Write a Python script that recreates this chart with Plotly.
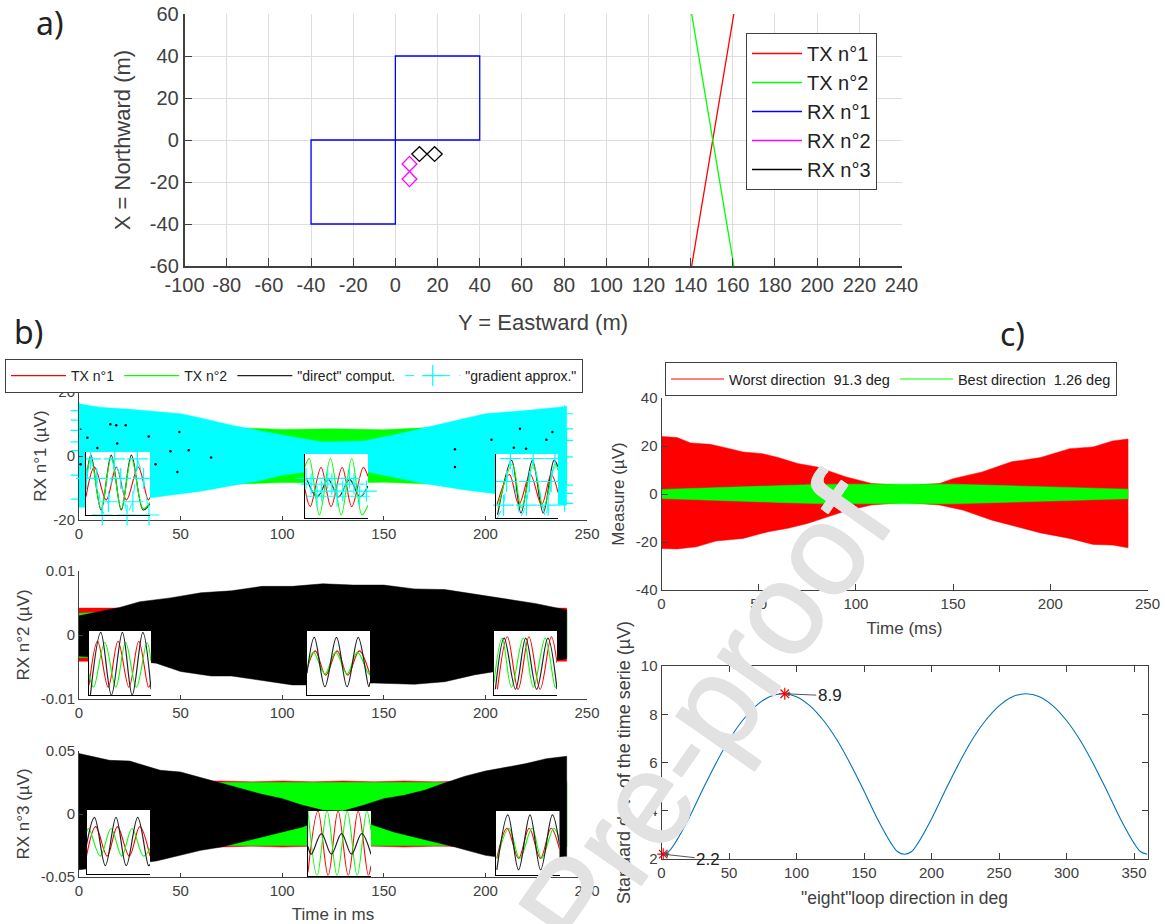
import plotly.graph_objects as go

W, H = 1165, 924
RED, GREEN, BLUE, MAGENTA, CYAN = "#ff0000", "#00ff00", "#0000ff", "#ff00ff", "#00ffff"
INK = "#404040"
FONT = "Liberation Sans"

# ---- tick labels
A_X_TICKS = [-100, -80, -60, -40, -20, 0, 20, 40, 60, 80, 100, 120, 140, 160, 180, 200, 220, 240]
A_Y_TICKS = [-60, -40, -20, 0, 20, 40, 60]
B_X_TICKS = [0, 50, 100, 150, 200, 250]
B1_Y_TICKS = [-20, 0, 20]
B2_Y_TICKS = [-0.01, 0, 0.01]
B3_Y_TICKS = [-0.05, 0, 0.05]
C1_Y_TICKS = [-40, -20, 0, 20, 40]

# ---- panel a) geometry
TX1_X = [140.5, 160.5]
TX1_Y = [-60, 60]
TX2_X = [140.5, 160.5]
TX2_Y = [60, -60]
RX1_X = [0, 40, 40, 0, 0, -40, -40, 0, 0]
RX1_Y = [0, 0, 40, 40, 0, 0, -40, -40, 0]
RX2_X = [6.7, 10.2, 6.7, 3.2, 6.7, 10.2, 6.7, 3.2, 6.7]
RX2_Y = [-15, -11.4, -7.8, -11.4, -15, -18.6, -22.2, -18.6, -15]
RX3_X = [15, 11.4, 7.8, 11.4, 15, 18.6, 22.2, 18.6, 15]
RX3_Y = [-6.7, -3.2, -6.7, -10.2, -6.7, -3.2, -6.7, -10.2, -6.7]
A_LABELS = ["TX n°1", "TX n°2", "RX n°1", "RX n°2", "RX n°3"]

# ---- panel b) envelopes
B1_G_T = [0, 40, 75, 100, 125, 150, 170, 200, 240]
B1_G_U = [9.0, 9.0, 8.9, 8.3, 8.5, 8.2, 8.8, 8.8, 8.8]
B1_G_L = [-8.8, -8.8, -8.8, -8.3, -8.4, -8.2, -8.7, -8.7, -8.8]
B1_C_UT = [0, 10, 25, 50, 62, 75, 88, 100, 110, 120, 140, 155, 170, 185, 200, 220, 240]
B1_C_U = [16.3, 15.2, 14.6, 13.2, 11.6, 9.6, 8.0, 6.5, 5.4, 4.4, 4.7, 6.6, 8.9, 11.0, 13.2, 14.2, 15.5]
B1_C_LT = [0, 3, 38, 60, 75, 88, 100, 115, 142, 155, 170, 190, 205, 235.5, 236, 240]
B1_C_L = [-16, -16, -12.8, -11, -9.2, -7.8, -6, -4.7, -5, -6.6, -8.6, -10.6, -11.8, -13.5, -15.4, -15.4]
B1_SPECK_X = [0.8, 18.3, 15.4, 23, 18.8, 0.8, 37.7, 54, 49.4, 48.4, 34.3, 4.1, 230, 214, 203, 217, 233, 185, 185, 205.7, 220, 9, 45, 65]
B1_SPECK_Y = [8.2, 9.6, 9.9, 9.6, 3.9, -2.6, -2.6, 1.8, 7.5, -5, 6.1, 5.7, 5.1, 2.6, 5.1, 8.5, 7.5, 2.1, -3.4, -3.4, 2.3, 2.5, 1.5, -0.5]
B1_EDGE_X = [0, 0, 0, 0, 0, 0, 0, 239, 239, 239, 239, 239, 239, 239]
B1_EDGE_Y = [14.2, 11.2, 8.0, 4.4, 1.7, -6, -13.5, 13.2, 8.5, 4.9, -0.3, -9.1, -11.7, -14.8]

B2_T = [0, 20, 40, 60, 80, 100, 120, 140, 160, 180, 200, 220, 240]
B2_R_U = [0.0042, 0.0042, 0.0041, 0.0041, 0.0041, 0.0041, 0.0041, 0.0041, 0.0041, 0.0041, 0.0041, 0.0041, 0.0042]
B2_R_L = [-0.0041, -0.0041, -0.0041, -0.0041, -0.0041, -0.0041, -0.0041, -0.0041, -0.0041, -0.0041, -0.0041, -0.0041, -0.0041]
B2_G_U = [0.0034, 0.0037, 0.0038, 0.0038, 0.0038, 0.0038, 0.0038, 0.0038, 0.0038, 0.0038, 0.0038, 0.0037, 0.0036]
B2_G_L = [-0.0035, -0.0037, -0.0038, -0.0038, -0.0038, -0.0038, -0.0038, -0.0038, -0.0038, -0.0038, -0.0038, -0.0037, -0.0035]
B2_K_UT = [0, 20, 30, 45, 60, 75, 90, 105, 120, 135, 150, 165, 180, 195, 210, 225, 240]
B2_K_U = [0.0030, 0.0043, 0.0052, 0.0058, 0.0066, 0.0069, 0.0076, 0.0076, 0.0080, 0.0078, 0.0078, 0.0072, 0.0071, 0.0064, 0.0057, 0.0049, 0.0039]
B2_K_LT = [0, 38, 50, 65, 75, 90, 105, 120, 145, 165, 180, 195, 205, 215, 225, 240]
B2_K_L = [-0.0033, -0.0044, -0.0057, -0.0064, -0.0064, -0.0071, -0.0078, -0.0078, -0.0075, -0.0077, -0.0073, -0.0062, -0.0057, -0.0046, -0.0044, -0.0037]

B3_T = [0, 30, 60, 70, 85, 100, 115, 130, 145, 160, 175, 190, 210, 240]
B3_R_U = [0.026, 0.026, 0.026, 0.0262, 0.0255, 0.0262, 0.0255, 0.0262, 0.0255, 0.0262, 0.0255, 0.026, 0.026, 0.026]
B3_R_L = [-0.026, -0.026, -0.026, -0.0262, -0.0255, -0.0262, -0.0255, -0.0262, -0.0255, -0.0262, -0.0255, -0.026, -0.026, -0.026]
B3_G_U = [0.025] * 14
B3_G_L = [-0.025] * 14
B3_K_UT = [0, 15, 25, 40, 50, 60, 70, 80, 90, 100, 110, 120, 130, 140, 150, 160, 170, 180, 190, 200, 210, 220, 230, 240]
B3_K_U = [0.048, 0.0426, 0.042, 0.0347, 0.0333, 0.0288, 0.024, 0.020, 0.0156, 0.0122, 0.0069, 0.0029, 0.0024, 0.0069, 0.0122, 0.0148, 0.0188, 0.0246, 0.030, 0.0341, 0.0368, 0.040, 0.0439, 0.0458]
B3_K_LT = [0, 20, 38, 50, 60, 70, 80, 90, 100, 110, 120, 125, 135, 145, 155, 165, 175, 185, 200, 240]
B3_K_L = [-0.0442, -0.0407, -0.0373, -0.0328, -0.0288, -0.0262, -0.0222, -0.0183, -0.0143, -0.0103, -0.0037, 0.0, -0.0029, -0.009, -0.0143, -0.0183, -0.0222, -0.0262, -0.0328, -0.042]

# ---- panel b) inset waveforms (first inset = A, middle = B, last = C)
B1A_R_X = [0, 4.1, 9.8, 14.7, 19.6, 25.3, 30.1, 31]
B1A_R_Y = [0.29, 0.76, 0.24, 0.76, 0.24, 0.76, 0.24, 0.28]
B1A_G_X = [0, 2.4, 7.3, 12.2, 17.1, 22, 27.7, 31]
B1A_G_Y = [0.55, 0.9, 0.1, 0.9, 0.1, 0.9, 0.1, 0.2]
B1A_K_Y = [0.5, 0.95, 0.08, 0.95, 0.08, 0.95, 0.08, 0.18]
B1A_C_X = [0.2, 2.2, 5.2, 7.9, 10.9, 13.8, 16.8, 19.9, 22.7, 24.9, 27.9, 30.5]
B1A_C_Y = [0.58, 0.89, 0.58, 0, 0.21, 0.89, 0.58, 0, 0.21, 0.89, 0.58, 0]

B1B_R_X = [0, 2.6, 7.9, 12.8, 18.3, 23, 28.7, 31]
B1B_R_Y = [0.45, 0.18, 0.79, 0.18, 0.79, 0.18, 0.79, 0.65]
B1B_G_X = [0, 2.1, 7.1, 12.5, 17.8, 23, 28, 31]
B1B_G_Y = [0.8, 0.93, 0.05, 0.93, 0.05, 0.93, 0.05, 0.2]
B1B_K_X = [1, 6, 11.5, 16.5, 22, 27, 31]
B1B_K_Y = [0.6, 0.33, 0.6, 0.33, 0.6, 0.33, 0.5]
B1B_C_X = [0.5, 3, 5.9, 8.2, 11.2, 13.2, 15.8, 18.6, 21.9, 24.1, 26.9, 30.2]
B1B_C_Y = [0.62, 0.53, 0.34, 0.42, 0.62, 0.53, 0.34, 0.42, 0.62, 0.53, 0.34, 0.42]

B1C_R_X = [0.5, 6.7, 11.4, 17.1, 22.8, 27.6, 31]
B1C_R_Y = [0.21, 0.68, 0.21, 0.68, 0.21, 0.68, 0.4]
B1C_G_X = [1, 8.2, 12.7, 18.6, 23.8, 29.5, 31]
B1C_G_Y = [0.16, 0.84, 0.16, 0.84, 0.16, 0.84, 0.75]
B1C_K_X = [0.8, 7.8, 12.5, 18.2, 23.6, 29, 31]
B1C_K_Y = [0.05, 0.9, 0.08, 0.9, 0.08, 0.9, 0.8]
B1C_C_X = [0.6, 3.8, 5.3, 7.2, 12, 15.2, 16.7, 18.6, 24.7, 26.1, 27.6, 29.5]
B1C_C_Y = [-0.01, 0.2, 0.57, 0.93, -0.01, 0.2, 0.57, 0.93, -0.01, 0.2, 0.57, 0.93]

B2A_R_X = [0, 4.3, 9.6, 14.5, 20, 24.9, 29.8, 31]
B2A_R_Y = [0.15, 0.84, 0.12, 0.84, 0.12, 0.84, 0.12, 0.2]
B2A_G_X = [0, 2.3, 7.9, 13.4, 18.3, 23.7, 29, 31]
B2A_G_Y = [0.33, 0.12, 0.82, 0.12, 0.82, 0.12, 0.82, 0.53]
B2A_K_X = [0.7, 5.9, 11.2, 16.7, 21.6, 26.9, 31]
B2A_K_Y = [0, 0.98, 0, 0.98, 0, 0.98, 0.09]

B2B_R_X = [0, 4.1, 9.2, 14.8, 20, 25.7, 31]
B2B_R_Y = [0.4, 0.69, 0.31, 0.69, 0.31, 0.69, 0.31]
B2B_G_X = [0, 3.2, 8.8, 14.1, 19.7, 24.8, 30.4, 31]
B2B_G_Y = [0.4, 0.67, 0.33, 0.67, 0.33, 0.67, 0.33, 0.38]
B2B_K_X = [0, 3.6, 8.8, 14.5, 19.7, 25.2, 30.4, 31]
B2B_K_Y = [0.34, 0.9, 0.13, 0.9, 0.13, 0.9, 0.13, 0.2]

B2C_R_X = [1.7, 6.6, 11.9, 17.2, 22.7, 28.2, 31]
B2C_R_Y = [0.09, 0.91, 0.09, 0.91, 0.09, 0.91, 0.5]
B2C_G_X = [0, 4, 8.6, 14.4, 19.4, 25.2, 30.2, 31]
B2C_G_Y = [0.2, 0.89, 0.12, 0.89, 0.12, 0.89, 0.12, 0.15]
B2C_K_X = [0.7, 5, 10.6, 15.6, 21, 26.5, 31]
B2C_K_Y = [0.09, 0.89, 0.09, 0.89, 0.09, 0.89, 0.09]

B3A_R_X = [0, 4.5, 10.1, 15.1, 20.9, 26, 31]
B3A_R_Y = [0.28, 0.74, 0.28, 0.74, 0.28, 0.74, 0.28]
B3A_G_X = [0, 1.1, 6.7, 12, 17.2, 22.2, 27.8, 31]
B3A_G_Y = [0.65, 0.71, 0.28, 0.71, 0.28, 0.71, 0.28, 0.4]
B3A_K_X = [0, 3.9, 9.2, 14.4, 19.4, 25, 30.3, 31]
B3A_K_Y = [0.45, 0.885, 0.13, 0.885, 0.13, 0.885, 0.13, 0.15]

B3B_R_X = [0, 4.9, 9.9, 14.8, 19.8, 24.7, 29.7, 31]
B3B_R_Y = [0.05, 1, 0, 1, 0, 1, 0, 0.15]
B3B_G_X = [0, 4.5, 9.4, 14.3, 19.3, 24.2, 28.9, 31]
B3B_G_Y = [1, 0, 1, 0, 1, 0, 1, 0.7]
B3B_K_X = [0, 1.6, 6.6, 11.5, 16.5, 21.4, 26.4, 31]
B3B_K_Y = [0.45, 0.33, 0.65, 0.33, 0.65, 0.33, 0.65, 0.33]

B3C_R_X = [0.4, 5.4, 11, 16.2, 21.7, 26.9, 31]
B3C_R_Y = [0.26, 0.73, 0.26, 0.73, 0.26, 0.73, 0.4]
B3C_G_X = [0.7, 6.3, 11.6, 17.6, 22.2, 28.2, 31]
B3C_G_Y = [0.26, 0.73, 0.26, 0.73, 0.26, 0.73, 0.55]
B3C_K_X = [0.4, 5.8, 11, 16.6, 21.8, 27.5, 31]
B3C_K_Y = [0.08, 0.94, 0.08, 0.94, 0.08, 0.94, 0.47]

B_LABELS = ["TX n°1", "TX n°2", '"direct" comput.', '"gradient approx."']

# ---- panel c) envelopes and curve
C_R_UT = [0, 8, 15, 25, 35, 42, 52, 60, 70, 80, 95, 108, 125, 143, 150, 165, 180, 195, 210, 222, 232, 240]
C_R_U = [24, 23.5, 21.3, 20.7, 18.9, 17.5, 16.8, 15.2, 12.7, 11.3, 7.1, 4.4, 3.5, 4.4, 6.4, 9.2, 13.4, 15.2, 18.9, 19.6, 22.1, 22.9]
C_R_LT = [0, 8, 18, 28, 42, 55, 65, 75, 85, 95, 108, 125, 143, 155, 170, 180, 195, 210, 222, 232, 240]
C_R_L = [-22.7, -22.9, -22, -19.6, -18.5, -15.7, -14.3, -12.3, -9.5, -7, -4.6, -3.5, -4.6, -6.7, -10.9, -13, -16.2, -18.5, -21, -21.3, -22.4]
C_G_T = [0, 30, 60, 80, 100, 125, 150, 180, 210, 240]
C_G_U = [1.9, 2.7, 3.3, 4.0, 4.1, 4.1, 4.1, 3.4, 2.7, 2.0]
C_G_L = [-1.9, -2.8, -3.5, -4.0, -4.2, -4.1, -4.1, -3.4, -2.8, -2.0]
C_LABELS = ["Worst direction  91.3 deg", "Best direction  1.26 deg"]

STD_ANGLE = [0, 5, 10, 20, 30, 40, 50, 60, 70, 80, 90, 100, 110, 120, 130, 140, 150, 160, 170, 175, 180, 185, 190, 200, 210, 220, 230, 240, 250, 260, 270, 280, 290, 300, 310, 320, 330, 340, 350, 355, 360]
STD_VALUE = [2.2, 2.3, 2.66, 3.66, 4.82, 5.93, 6.93, 7.74, 8.35, 8.73, 8.85, 8.73, 8.35, 7.74, 6.93, 5.93, 4.82, 3.66, 2.66, 2.3, 2.2, 2.3, 2.66, 3.66, 4.82, 5.93, 6.93, 7.74, 8.35, 8.73, 8.85, 8.73, 8.35, 7.74, 6.93, 5.93, 4.82, 3.66, 2.66, 2.3, 2.2]
BEST_POINT = (1.26, 2.2)
WORST_POINT = (91.3, 8.85)


def dx(a, b):
    return [a / W, b / W]


def dy(top, bottom):
    return [1 - bottom / H, 1 - top / H]


fig = go.Figure()
layout = {}


def axes(n, xdom, ydom, xr, yr, xopts=None, yopts=None):
    sfx = "" if n == 1 else str(n)
    layout["xaxis" + sfx] = dict(domain=xdom, range=xr, anchor="y" + sfx, automargin=False, **(xopts or {}))
    layout["yaxis" + sfx] = dict(domain=ydom, range=yr, anchor="x" + sfx, automargin=False, **(yopts or {}))
    return ("x" + sfx, "y" + sfx)


def band(ax, upt, up, lot, lo, color):
    fig.add_trace(go.Scatter(x=upt + lot[::-1], y=up + lo[::-1], xaxis=ax[0], yaxis=ax[1], mode="lines",
                             fill="toself", fillcolor=color, line=dict(color=color, width=0.5),
                             showlegend=False, hoverinfo="skip"))


def main_axis(size, ticks, ticklen=6, **kw):
    base = dict(showline=True, linecolor=INK, linewidth=1, ticks="inside", ticklen=ticklen, tickcolor=INK,
                showgrid=False, zeroline=False, tickmode="array", tickvals=ticks, ticktext=[str(t) for t in ticks],
                tickangle=0, tickfont=dict(size=size, color=INK, family=FONT))
    base.update(kw)
    return base


def title(text, size, standoff):
    return dict(text=text, font=dict(size=size, color=INK, family=FONT), standoff=standoff)


# panel a
GRID = "#dedede"
a = axes(1, dx(184.5, 901.5), dy(14, 266), [-100, 240], [-60, 60],
         main_axis(20, A_X_TICKS, 8, showgrid=True, gridcolor=GRID, linewidth=2, title=title("Y = Eastward (m)", 22, 20)),
         main_axis(20, A_Y_TICKS, 8, showgrid=True, gridcolor=GRID, linewidth=1.5, title=title("X = Northward (m)", 22, 13)))
for xs, ys, col, name in [(TX1_X, TX1_Y, RED, A_LABELS[0]), (TX2_X, TX2_Y, GREEN, A_LABELS[1]),
                          (RX1_X, RX1_Y, BLUE, A_LABELS[2]), (RX2_X, RX2_Y, MAGENTA, A_LABELS[3]),
                          (RX3_X, RX3_Y, "#000000", A_LABELS[4])]:
    fig.add_trace(go.Scatter(x=xs, y=ys, xaxis=a[0], yaxis=a[1], mode="lines", line=dict(color=col, width=1.3),
                             name=name, legend="legend", legendgroup=name, hoverinfo="skip"))

# panel b mains
X_B = dx(79, 587)
b1 = axes(2, X_B, dy(392, 520), [0, 250], [-20, 20], main_axis(15, B_X_TICKS, 4),
          main_axis(15, B1_Y_TICKS, 4, title=title("RX n°1 (µV)", 17, 2)))
b2 = axes(3, X_B, dy(571, 699), [0, 250], [-0.01, 0.01], main_axis(15, B_X_TICKS, 4),
          main_axis(15, B2_Y_TICKS, 4, title=title("RX n°2 (µV)", 17, 6)))
b3 = axes(4, X_B, dy(751, 877), [0, 250], [-0.05, 0.05], main_axis(15, B_X_TICKS, 4, title=title("Time in ms", 17, 10)),
          main_axis(15, B3_Y_TICKS, 4, title=title("RX n°3 (µV)", 17, 6)))

band(b1, B1_G_T, B1_G_U, B1_G_T, B1_G_L, GREEN)
band(b1, B1_C_UT, B1_C_U, B1_C_LT, B1_C_L, CYAN)
fig.add_trace(go.Scatter(x=B1_SPECK_X, y=B1_SPECK_Y, xaxis=b1[0], yaxis=b1[1], mode="markers",
                         marker=dict(color="#000000", size=2.5), showlegend=False, hoverinfo="skip"))
fig.add_trace(go.Scatter(x=B1_EDGE_X, y=B1_EDGE_Y, xaxis=b1[0], yaxis=b1[1], mode="markers", cliponaxis=False,
                         marker=dict(symbol="cross-thin", size=12, line=dict(color=CYAN, width=1.2)),
                         showlegend=False, hoverinfo="skip"))
band(b2, B2_T, B2_R_U, B2_T, B2_R_L, RED)
band(b2, B2_T, B2_G_U, B2_T, B2_G_L, GREEN)
band(b2, B2_K_UT, B2_K_U, B2_K_LT, B2_K_L, "#000000")
band(b3, B3_T, B3_R_U, B3_T, B3_R_L, RED)
band(b3, B3_T, B3_G_U, B3_T, B3_G_L, GREEN)
band(b3, B3_K_UT, B3_K_U, B3_K_LT, B3_K_L, "#000000")

# panel c
X_C = dx(661.5, 1147.5)
c1 = axes(5, X_C, dy(398, 590), [0, 250], [-40, 40], main_axis(15, B_X_TICKS, 6, title=title("Time (ms)", 17, 11)),
          main_axis(15, C1_Y_TICKS, 6, title=title("Measure (µV)", 17, 6)))
c2 = axes(6, X_C, dy(666, 859), [0, 360], [2, 10],
          main_axis(15, [0, 50, 100, 150, 200, 250, 300, 350], 6, mirror="ticks", title=title('"eight"loop direction in deg', 17.5, 11)),
          main_axis(15, [2, 4, 6, 8, 10], 6, mirror="ticks", title=title("Standard dev. of the time serie (µV)", 18, 5)))
band(c1, C_R_UT, C_R_U, C_R_LT, C_R_L, RED)
band(c1, C_G_T, C_G_U, C_G_T, C_G_L, GREEN)
for name, col in zip(C_LABELS, [RED, GREEN]):
    fig.add_trace(go.Scatter(x=[None], y=[None], xaxis=c1[0], yaxis=c1[1], mode="lines", name=name,
                             line=dict(color=col, width=1.1), legend="legend3", hoverinfo="skip"))
fig.add_trace(go.Scatter(x=STD_ANGLE, y=STD_VALUE, xaxis=c2[0], yaxis=c2[1], mode="lines", cliponaxis=False,
                         line=dict(color="#0072bd", width=1.1, shape="spline"), showlegend=False, hoverinfo="skip"))
fig.add_trace(go.Scatter(x=[BEST_POINT[0], WORST_POINT[0]], y=[BEST_POINT[1], WORST_POINT[1]], xaxis=c2[0], yaxis=c2[1],
                         mode="markers", cliponaxis=False,
                         marker=dict(symbol="asterisk", size=10, line=dict(color=RED, width=1.2)),
                         showlegend=False, hoverinfo="skip"))

# insets
INSET_BOXES = [
    (86, 150, 452, 515), (305, 368, 454, 518), (496, 558, 454, 518),
    (89, 151, 631, 695), (307, 370, 631, 695), (494, 557, 631, 695),
    (86.5, 150, 810, 874), (308, 371, 811, 875.5), (496, 559.5, 811, 875),
]
INSET_SERIES = [
    (B1A_R_X, B1A_R_Y, B1A_G_X, B1A_G_Y, B1A_G_X, B1A_K_Y, B1A_C_X, B1A_C_Y),
    (B1B_R_X, B1B_R_Y, B1B_G_X, B1B_G_Y, B1B_K_X, B1B_K_Y, B1B_C_X, B1B_C_Y),
    (B1C_R_X, B1C_R_Y, B1C_G_X, B1C_G_Y, B1C_K_X, B1C_K_Y, B1C_C_X, B1C_C_Y),
    (B2A_R_X, B2A_R_Y, B2A_G_X, B2A_G_Y, B2A_K_X, B2A_K_Y, None, None),
    (B2B_R_X, B2B_R_Y, B2B_G_X, B2B_G_Y, B2B_K_X, B2B_K_Y, None, None),
    (B2C_R_X, B2C_R_Y, B2C_G_X, B2C_G_Y, B2C_K_X, B2C_K_Y, None, None),
    (B3A_R_X, B3A_R_Y, B3A_G_X, B3A_G_Y, B3A_K_X, B3A_K_Y, None, None),
    (B3B_R_X, B3B_R_Y, B3B_G_X, B3B_G_Y, B3B_K_X, B3B_K_Y, None, None),
    (B3C_R_X, B3C_R_Y, B3C_G_X, B3C_G_Y, B3C_K_X, B3C_K_Y, None, None),
]
for i, (box, s) in enumerate(zip(INSET_BOXES, INSET_SERIES)):
    hide = dict(showline=True, linecolor="#000000", linewidth=1, showticklabels=False, ticks="", showgrid=False, zeroline=False)
    ax = axes(7 + i, dx(box[0], box[1]), dy(box[2], box[3]), [0, 31], [0, 1], dict(hide), dict(hide))
    first = i == 0
    black = go.Scatter(x=s[4], y=s[5], xaxis=ax[0], yaxis=ax[1], mode="lines", line=dict(color="#222222", width=1.2, shape="spline"),
                       name=B_LABELS[2], legend="legend2", legendrank=3, showlegend=first, hoverinfo="skip")
    if s[6] is not None:
        fig.add_trace(black)
    fig.add_trace(go.Scatter(x=s[0], y=s[1], xaxis=ax[0], yaxis=ax[1], mode="lines", line=dict(color=RED, width=1.1, shape="spline"),
                             name=B_LABELS[0], legend="legend2", legendrank=1, showlegend=first, hoverinfo="skip"))
    fig.add_trace(go.Scatter(x=s[2], y=s[3], xaxis=ax[0], yaxis=ax[1], mode="lines", line=dict(color=GREEN, width=1.1, shape="spline"),
                             name=B_LABELS[1], legend="legend2", legendrank=2, showlegend=first, hoverinfo="skip"))
    if s[6] is None:
        fig.add_trace(black)
    else:
        fig.add_trace(go.Scatter(x=s[6], y=s[7], xaxis=ax[0], yaxis=ax[1], mode="lines+markers", cliponaxis=False,
                                 line=dict(color=CYAN, width=1, dash="dash"),
                                 marker=dict(symbol="cross-thin", size=15, line=dict(color=CYAN, width=1.2)),
                                 name=B_LABELS[3], legend="legend2", legendrank=4, showlegend=first, hoverinfo="skip"))

WM = "#e2e2e2"
annotations = [
    dict(text="Pre-proof", xref="paper", yref="paper", x=705 / W, y=1 - 716 / H, xanchor="center", yanchor="middle",
         textangle=-55, showarrow=False,
         font=dict(size=130, color=WM, family=FONT,
                   shadow=f"0.6px 0.6px 0 {WM}, -0.6px -0.6px 0 {WM}, 0.6px -0.6px 0 {WM}, -0.6px 0.6px 0 {WM}")),
    dict(text="a)", xref="paper", yref="paper", x=50 / W, y=1 - 22 / H, xanchor="center", yanchor="middle",
         showarrow=False, font=dict(size=32, color="#222222", family="Noto Sans")),
    dict(text="b)", xref="paper", yref="paper", x=28 / W, y=1 - 331 / H, xanchor="center", yanchor="middle",
         showarrow=False, font=dict(size=32, color="#222222", family="Noto Sans")),
    dict(text="c)", xref="paper", yref="paper", x=1012 / W, y=1 - 333 / H, xanchor="center", yanchor="middle",
         showarrow=False, font=dict(size=32, color="#222222", family="Noto Sans")),
    dict(text="8.9", xref=c2[0], yref=c2[1], x=WORST_POINT[0], y=WORST_POINT[1], ax=45, ay=2, showarrow=True,
         arrowhead=2, arrowsize=1, arrowwidth=1, arrowcolor="#555555", font=dict(size=17, color="#222222", family=FONT)),
    dict(text="2.2", xref=c2[0], yref=c2[1], x=BEST_POINT[0], y=BEST_POINT[1], ax=45, ay=5, showarrow=True,
         arrowhead=2, arrowsize=1, arrowwidth=1, arrowcolor="#555555", font=dict(size=17, color="#222222", family=FONT)),
]


def legend(x, y, size, orient, itemwidth, **kw):
    return dict(x=x / W, y=1 - y / H, xanchor="left", yanchor="top", orientation=orient, bgcolor="white",
                bordercolor=INK, borderwidth=1, font=dict(size=size, color="#222222", family=FONT),
                itemwidth=itemwidth, traceorder="normal", **kw)


fig.update_layout(
    width=W, height=H, autosize=False, margin=dict(l=0, r=0, t=0, b=0, pad=0),
    paper_bgcolor="white", plot_bgcolor="white", annotations=annotations, hovermode=False,
    legend=legend(746, 33, 20, "v", 50, tracegroupgap=1),
    legend2=legend(5, 359, 14, "h", 55),
    legend3=legend(665, 362, 14.5, "h", 53),
    **layout,
)
fig.write_html("out.html", config=dict(displayModeBar=False), post_script="document.body.style.margin='0';")
